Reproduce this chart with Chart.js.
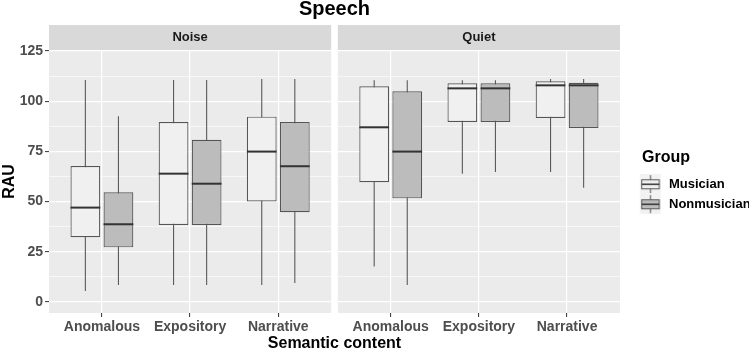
<!DOCTYPE html>
<html>
<head>
<meta charset="utf-8">
<script src="https://cdn.jsdelivr.net/npm/chart.js@4/dist/chart.umd.min.js"></script>
<style>
html,body{margin:0;padding:0;background:#fff;}
#wrap{width:749px;height:351px;position:relative;}
</style>
</head>
<body>
<div id="wrap"><canvas id="c" width="749" height="351"></canvas></div>
<script>
// ---- data ----
const conditions = ['Noise', 'Quiet'];
const categories = ['Anomalous', 'Expository', 'Narrative'];
const groups = ['Musician', 'Nonmusician'];
const yTicks = [0, 25, 50, 75, 100, 125];
// order of values: Noise (Anomalous, Expository, Narrative), Quiet (Anomalous, Expository, Narrative)
const musicianMin    = [5.5, 8.5, 8.5, 17.6, 63.9, 64.7];
const musicianQ1     = [32.2, 38.3, 50.1, 59.6, 89.6, 91.6];
const musicianMedian = [47.0, 63.9, 74.9, 87.0, 106.4, 107.9];
const musicianQ3     = [67.7, 89.6, 92.3, 107.4, 108.9, 109.9];
const musicianMax    = [110.5, 110.5, 111.0, 110.4, 110.4, 111.0];

const nonmusicianMin    = [8.5, 8.5, 9.5, 8.5, 64.7, 56.9];
const nonmusicianQ1     = [27.2, 38.3, 44.7, 51.6, 89.6, 86.7];
const nonmusicianMedian = [38.7, 58.9, 67.6, 74.9, 106.4, 107.9];
const nonmusicianQ3     = [54.6, 80.8, 89.6, 104.9, 108.9, 109.2];
const nonmusicianMax    = [92.5, 110.5, 111.0, 110.4, 110.4, 111.0];

// ---- layout helpers (facet positions on a shared linear x axis) ----
const EXPAND = 0.6, PANEL_GAP = 0.075, DODGE = 0.1875;
const PANEL_W = categories.length - 1 + 2 * EXPAND;
const panelStart = conditions.map((c, p) => 1 - EXPAND + p * (PANEL_W + PANEL_GAP));
const xPos = [];
conditions.forEach((c, p) => categories.forEach((k, i) => xPos.push(panelStart[p] + EXPAND + i)));
const xLabels = [];
conditions.forEach(() => categories.forEach(k => xLabels.push(k)));
const yGrid = [];
for (let i = 0; i < yTicks.length; i++) {
  yGrid.push(yTicks[i]);
  if (i < yTicks.length - 1) yGrid.push((yTicks[i] + yTicks[i + 1]) / 2);
}

const stats = [
  {min: musicianMin, q1: musicianQ1, med: musicianMedian, q3: musicianQ3, max: musicianMax, fill: '#f0f0f0', off: -DODGE},
  {min: nonmusicianMin, q1: nonmusicianQ1, med: nonmusicianMedian, q3: nonmusicianQ3, max: nonmusicianMax, fill: '#bcbcbc', off: DODGE}
];

const FONT = '"Liberation Sans", Arial, sans-serif';
Chart.defaults.font.family = FONT;

// legend key glyphs (boxplot key)
function makeKey(fill) {
  const cv = document.createElement('canvas');
  cv.width = 33; cv.height = 20;
  const g = cv.getContext('2d');
  const ox = 11.75;
  g.fillStyle = '#f2f2f2';
  g.fillRect(ox, 0, 21, 20);
  const cx = ox + 10.5;
  g.strokeStyle = '#555'; g.lineWidth = 1;
  g.beginPath(); g.moveTo(cx, 1); g.lineTo(cx, 19); g.stroke();
  g.fillStyle = fill;
  g.fillRect(ox + 1.7, 5.7, 17.6, 9);
  g.strokeRect(ox + 1.7, 5.7, 17.6, 9);
  g.strokeStyle = '#333'; g.lineWidth = 1.5;
  g.beginPath(); g.moveTo(ox + 1.7, 10.2); g.lineTo(ox + 19.3, 10.2); g.stroke();
  return cv;
}
const keys = stats.map(s => makeKey(s.fill));

const facetPlugin = {
  id: 'facets',
  afterLayout(chart) {
    // let the legend labels run to the canvas edge (keeps the title centred as laid out)
    if (chart.legend) chart.legend.right = chart.width;
  },
  beforeDraw(chart) {
    const {ctx, chartArea: a, scales: {x}} = chart;
    ctx.save();
    conditions.forEach((name, p) => {
      const l = x.getPixelForValue(panelStart[p]);
      const r = x.getPixelForValue(panelStart[p] + PANEL_W);
      ctx.fillStyle = '#ebebeb';
      ctx.fillRect(l, a.top, r - l, a.bottom - a.top);
      ctx.fillStyle = '#d9d9d9';
      ctx.fillRect(l, a.top - 25, r - l, 25);
      ctx.fillStyle = '#1a1a1a';
      ctx.font = 'bold 13px ' + FONT;
      ctx.textAlign = 'center';
      ctx.textBaseline = 'middle';
      ctx.fillText(name, (l + r) / 2, a.top - 12.5);
    });
    ctx.restore();
  },
  beforeDatasetsDraw(chart) {
    const {ctx, scales: {y}} = chart;
    ctx.save();
    ctx.strokeStyle = '#5a5a5a';
    ctx.lineWidth = 1.1;
    stats.forEach((s, d) => {
      const meta = chart.getDatasetMeta(d);
      meta.data.forEach((bar, i) => {
        const bx = bar.x;
        ctx.beginPath();
        ctx.moveTo(bx, y.getPixelForValue(s.min[i]));
        ctx.lineTo(bx, y.getPixelForValue(s.max[i]));
        ctx.stroke();
      });
    });
    ctx.restore();
  },
  afterDatasetsDraw(chart) {
    const {ctx, scales: {y}} = chart;
    ctx.save();
    ctx.strokeStyle = '#333';
    ctx.lineWidth = 2;
    stats.forEach((s, d) => {
      const meta = chart.getDatasetMeta(d);
      meta.data.forEach((bar, i) => {
        const py = y.getPixelForValue(s.med[i]);
        ctx.beginPath();
        ctx.moveTo(bar.x - bar.width / 2, py);
        ctx.lineTo(bar.x + bar.width / 2, py);
        ctx.stroke();
      });
    });
    ctx.restore();
  }
};

new Chart(document.getElementById('c'), {
  type: 'bar',
  data: {
    datasets: stats.map((s, d) => ({
      label: groups[d],
      data: xPos.map((p, i) => ({x: p + s.off, y: [s.q1[i], s.q3[i]]})),
      backgroundColor: s.fill,
      borderColor: '#555',
      borderWidth: 1.2,
      borderSkipped: false,
      grouped: false,
      categoryPercentage: 1,
      barPercentage: 0.9
    }))
  },
  options: {
    responsive: false,
    animation: false,
    devicePixelRatio: 1,
    layout: {padding: {left: 0, right: 37, top: 0, bottom: 0}},
    scales: {
      x: {
        type: 'linear',
        offset: false,
        min: panelStart[0],
        max: panelStart[panelStart.length - 1] + PANEL_W,
        afterBuildTicks: s => { s.ticks = xPos.map(v => ({value: v})); },
        afterFit: s => { s.height = 38; },
        ticks: {
          autoSkip: false, maxRotation: 0, padding: 2,
          color: '#4d4d4d', font: {size: 14, weight: 'bold'},
          callback: (v, i) => xLabels[i]
        },
        grid: {offset: false, color: '#ffffff', lineWidth: 1.2, tickLength: 4, tickColor: '#333', tickWidth: 1},
        border: {display: false},
        title: {display: true, text: 'Semantic content', color: '#000',
          font: {size: 16, weight: 'bold', lineHeight: 0.875}, padding: {top: 0, bottom: 0}}
      },
      y: {
        type: 'linear',
        min: -5.5,
        max: 125.5,
        afterBuildTicks: s => { s.ticks = yGrid.map(v => ({value: v})); },
        afterFit: s => { s.width = 49; },
        ticks: {
          autoSkip: false, padding: 2,
          color: '#4d4d4d', font: {size: 14, weight: 'bold'},
          callback: v => (yTicks.includes(v) ? String(v) : '')
        },
        grid: {
          color: '#ffffff',
          lineWidth: c => (yTicks.includes(c.tick.value) ? 1.2 : 0.6),
          tickLength: 4,
          tickColor: c => (yTicks.includes(c.tick.value) ? '#333' : 'rgba(0,0,0,0)'),
          tickWidth: 1
        },
        border: {display: false},
        title: {display: true, text: 'RAU', color: '#000',
          font: {size: 16, weight: 'bold'}, padding: {top: 0, bottom: 0}}
      }
    },
    plugins: {
      tooltip: {enabled: false},
      title: {
        display: true, text: 'Speech', fullSize: false, color: '#000',
        font: {size: 20, weight: 'bold', lineHeight: 0.9},
        padding: {top: 0, bottom: 32}
      },
      legend: {
        display: true,
        position: 'right',
        align: 'center',
        fullSize: false,
        maxWidth: 92,
        onClick: null,
        title: {display: true, text: 'Group', position: 'center', color: '#000',
          font: {size: 16, weight: 'bold'}, padding: {top: 4, bottom: 2}},
        labels: {
          usePointStyle: true,
          pointStyleWidth: 35.5,
          boxHeight: 13,
          padding: 7,
          color: '#000',
          font: {size: 13, weight: 'bold'},
          generateLabels: () => groups.map((g, d) => ({
            text: g, pointStyle: keys[d], fillStyle: stats[d].fill,
            strokeStyle: '#555', lineWidth: 0, hidden: false, datasetIndex: d
          }))
        }
      }
    }
  },
  plugins: [facetPlugin]
});
</script>
</body>
</html>
